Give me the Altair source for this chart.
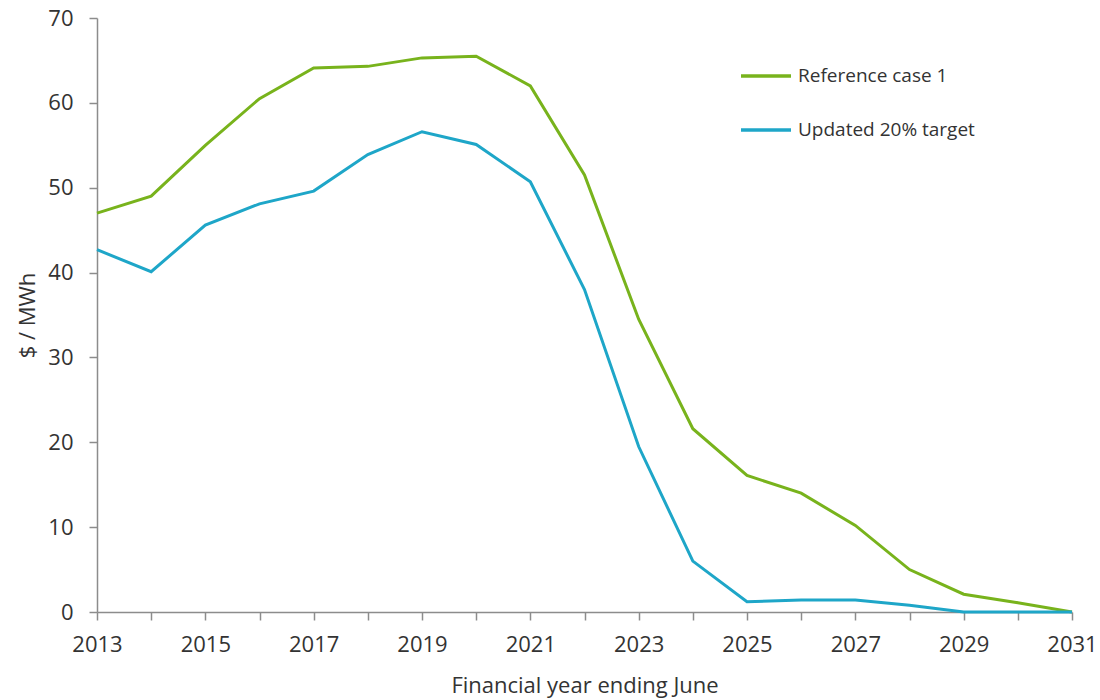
import altair as alt
import pandas as pd

# Financial years (ending June)
years = list(range(2013, 2032))

# Price series, $/MWh
reference_case_1 = [47.0, 49.0, 55.0, 60.5, 64.1, 64.3, 65.3, 65.5, 62.0, 51.5,
                    34.5, 21.6, 16.1, 14.0, 10.2, 5.0, 2.1, 1.1, 0.0]
updated_20_target = [42.7, 40.1, 45.6, 48.1, 49.6, 53.9, 56.6, 55.1, 50.7, 38.0,
                     19.5, 6.0, 1.2, 1.4, 1.4, 0.8, 0.0, 0.0, 0.0]

series_names = ["Reference case 1", "Updated 20% target"]
series_colors = ["#78b31c", "#1ea6c8"]

rows = []
for name, vals in zip(series_names, [reference_case_1, updated_20_target]):
    for y, v in zip(years, vals):
        rows.append({"Year": y, "Value": v, "Series": name})
df = pd.DataFrame(rows)

FONT = "Open Sans"

chart = alt.Chart(df).mark_line(strokeWidth=3).encode(
    x=alt.X(
        "Year:Q",
        scale=alt.Scale(domain=[2013, 2031], nice=False, zero=False),
        axis=alt.Axis(
            title="Financial year ending June",
            values=years,
            format="d",
            labelExpr="datum.value % 2 == 1 ? datum.label : ''",
            labelFlush=False,
            grid=False,
            tickSize=8,
            labelPadding=14,
            titlePadding=20,
        ),
    ),
    y=alt.Y(
        "Value:Q",
        scale=alt.Scale(domain=[0, 70], nice=False),
        axis=alt.Axis(
            title="$ / MWh",
            values=list(range(0, 71, 10)),
            labelFlush=False,
            grid=False,
            tickSize=8,
            labelPadding=16,
            titlePadding=8,
        ),
    ),
    color=alt.Color(
        "Series:N",
        scale=alt.Scale(domain=series_names, range=series_colors),
        legend=alt.Legend(
            title=None,
            orient="none",
            legendX=642,
            legendY=31,
            symbolType="stroke",
            symbolSize=2500,
            symbolStrokeWidth=3.5,
            labelFontSize=19,
            labelFont=FONT,
            labelColor="#333333",
            labelLimit=400,
            rowPadding=17,
            labelOffset=5,
        ),
    ),
).properties(
    width=975,
    height=594,
    background="white",
    padding={"left": 97, "top": 18, "right": 28, "bottom": 88},
    autosize=alt.AutoSizeParams(type="none"),
).configure_view(
    stroke=None
).configure_axis(
    domainColor="#8c8c8c",
    tickColor="#8c8c8c",
    domainWidth=1.5,
    tickWidth=1.5,
    labelFont=FONT,
    labelFontSize=22,
    labelColor="#333333",
    titleFont=FONT,
    titleFontSize=22,
    titleFontWeight="normal",
    titleColor="#333333",
)

chart.save("out.html", embed_options={"renderer": "svg", "actions": False})
